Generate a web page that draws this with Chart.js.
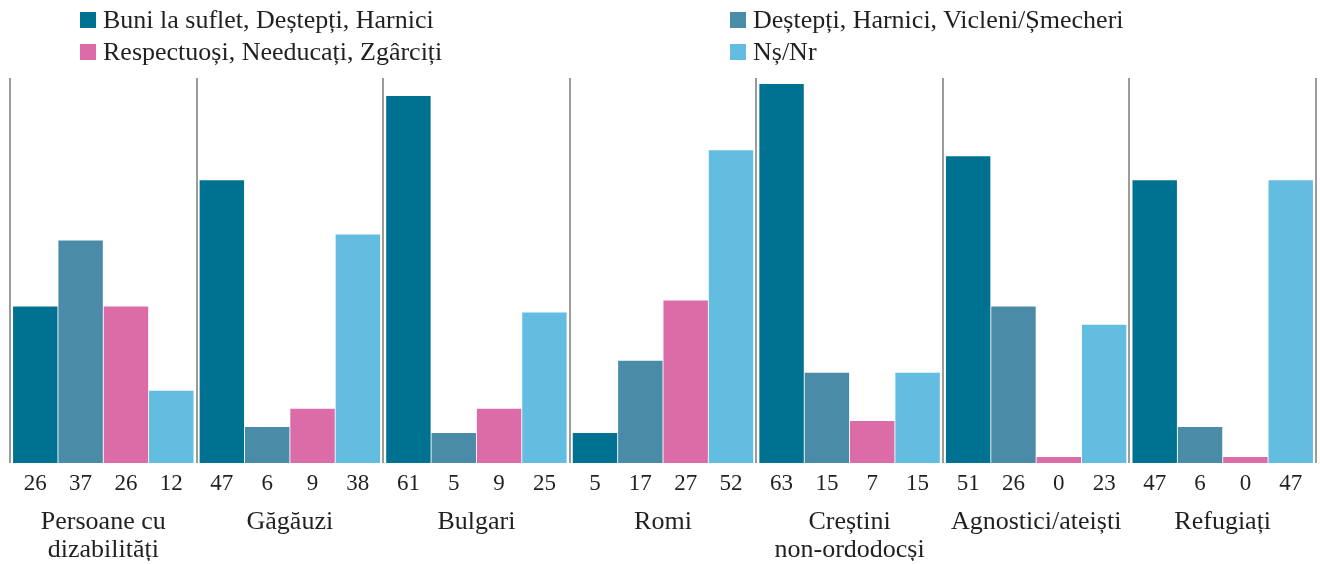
<!DOCTYPE html>
<html>
<head>
<meta charset="utf-8">
<script src="https://cdn.jsdelivr.net/npm/chart.js@4/dist/chart.umd.min.js"></script>
<style>
  body { margin: 0; background: #fff; }
  #wrap { position: relative; width: 1320px; height: 564px; }
  .leg { position: absolute; font: 26px "Liberation Serif", serif; line-height: 32px; color: #231f20; white-space: nowrap; padding-left: 23px; }
  .leg i { position: absolute; left: 0; top: 8px; width: 16px; height: 16px; }
</style>
</head>
<body>
<div id="wrap">
  <canvas id="chart"></canvas>
  <div id="legend"></div>
</div>
<script>
const categories = [
  ['Persoane cu', 'dizabilități'], 'Găgăuzi', 'Bulgari', 'Romi',
  ['Creștini', 'non-ordodocși'], 'Agnostici/ateiști', 'Refugiați'
];
const seriesNames = [
  'Buni la suflet, Deștepți, Harnici',
  'Deștepți, Harnici, Vicleni/Șmecheri',
  'Respectuoși, Needucați, Zgârciți',
  'Nș/Nr'
];
const buni = [26, 47, 61, 5, 63, 51, 47];
const vicleni = [37, 6, 5, 17, 15, 26, 6];
const respectuosi = [26, 9, 9, 27, 7, 0, 0];
const nsnr = [12, 38, 25, 52, 15, 23, 47];
const colors = ['#007291', '#4a8ba8', '#db6ca8', '#63bde0'];

// legend in two columns, as in the original
const legendPos = [[80, 4], [730, 4], [80, 36], [730, 36]];
const legendOrder = [0, 1, 2, 3];
const legend = document.getElementById('legend');
legendOrder.forEach((s, i) => {
  const d = document.createElement('div');
  d.className = 'leg';
  d.style.left = legendPos[i][0] + 'px';
  d.style.top = legendPos[i][1] + 'px';
  d.innerHTML = '<i style="background:' + colors[s] + '"></i>' + seriesNames[s];
  legend.appendChild(d);
});

// value under each bar
const valueLabels = {
  id: 'valueLabels',
  afterDatasetsDraw(chart) {
    const ctx = chart.ctx;
    ctx.save();
    ctx.font = '23px "Liberation Serif", serif';
    ctx.fillStyle = '#231f20';
    ctx.textAlign = 'center';
    ctx.textBaseline = 'alphabetic';
    chart.data.datasets.forEach((ds, i) => {
      chart.getDatasetMeta(i).data.forEach((bar, j) => {
        ctx.fillText(String(ds.data[j]), bar.x, chart.chartArea.bottom + 27);
      });
    });
    ctx.restore();
  }
};

const ctx = document.getElementById('chart').getContext('2d');
new Chart(ctx, {
  type: 'bar',
  data: {
    labels: categories,
    datasets: [buni, vicleni, respectuosi, nsnr].map((d, i) => ({
      label: seriesNames[i],
      data: d,
      backgroundColor: colors[i],
      categoryPercentage: 0.972,
      barPercentage: 0.98,
      minBarLength: 6
    }))
  },
  options: {
    responsive: true,
    maintainAspectRatio: false,
    animation: false,
    layout: { padding: { top: 78, left: 10, right: 4, bottom: 3 } },
    plugins: {
      legend: { display: false },
      tooltip: { enabled: false }
    },
    scales: {
      x: {
        border: { display: false },
        grid: { offset: true, color: '#9b9b9b', lineWidth: 2, drawTicks: false },
        afterFit(scale) {
          scale.height = 98;
          scale.paddingLeft = 0;
          scale.paddingRight = 0;
        },
        ticks: {
          padding: 45,
          autoSkip: false,
          maxRotation: 0,
          color: '#231f20',
          font: { family: '"Liberation Serif", serif', size: 26, lineHeight: 1.08 }
        }
      },
      y: { display: false, min: 0, max: 64 }
    }
  },
  plugins: [valueLabels]
});
</script>
</body>
</html>
